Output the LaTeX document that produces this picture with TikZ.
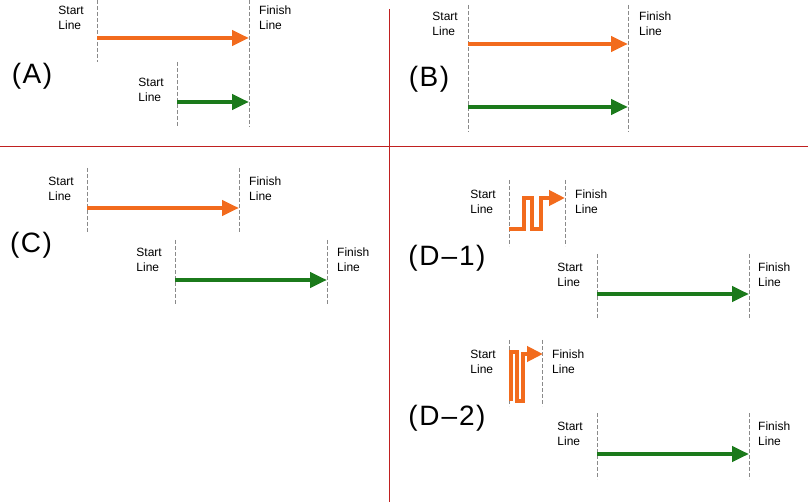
\documentclass[tikz,border=0pt]{standalone}
\usepackage{fontspec}
\setmainfont{Liberation Sans}
\usetikzlibrary{arrows.meta,positioning}
\definecolor{run}{HTML}{F26B1D}
\definecolor{walk}{HTML}{1B7A1B}
\definecolor{divider}{HTML}{C02020}
\definecolor{guide}{HTML}{8A8A8A}
\tikzset{
  every node/.style={font=\fontsize{12}{15}\selectfont,inner sep=0pt},
  startlbl/.style={anchor=north east,align=left},
  finishlbl/.style={anchor=north west,align=left},
  tag/.style={font=\fontsize{28}{32}\selectfont},
  guideline/.style={draw=guide,line width=1pt,dash pattern=on 4pt off 2pt},
  fast/.style={-{Triangle[length=17pt,width=15pt]},line width=4.5pt,draw=run},
  twisty/.style={fast,line width=4.5pt,-{Triangle[length=16pt,width=15pt]}},
  slow/.style={fast,draw=walk},
  split/.style={draw=divider,line width=1.5pt},
}
\newcommand{\tagtext}[1]{(\kern1.5pt#1\kern1.5pt)}
\begin{document}
\begin{tikzpicture}[x=1pt,y=-1pt]
\useasboundingbox (0,0) rectangle (808,502);

% dividers
\coordinate (vTop) at (389.3,9);   \coordinate (vBot) at (389.3,502);
\coordinate (hLeft) at (0,146.5);  \coordinate (hRight) at (808,146.5);
\draw[split] (vTop) -- (vBot);
\draw[split] (hLeft) -- (hRight);

% (A)
\node[tag] (tagA) at (32,76) {\tagtext{A}};
\coordinate (aStartTop) at (97,0);    \coordinate (aStartBot) at (97,62);
\coordinate (aFinTop) at (249,0);     \coordinate (aFinBot) at (249,127);
\coordinate (aStartTwoTop) at (177,62); \coordinate (aStartTwoBot) at (177,127);
\draw[guideline] (aStartTop) -- (aStartBot);
\draw[guideline] (aFinTop) -- (aFinBot);
\draw[guideline] (aStartTwoTop) -- (aStartTwoBot);
\node[startlbl] (aStartLbl) at (84,5.5) {Start\\Line};
\node[finishlbl] (aFinLbl) at (259,5.5) {Finish\\Line};
\node[startlbl] (aStartTwoLbl) at (164,77.5) {Start\\Line};
\coordinate (aRunFrom) at (97,38);    \coordinate (aRunTo) at (249,38);
\coordinate (aWalkFrom) at (177,102); \coordinate (aWalkTo) at (249,102);
\draw[fast] (aRunFrom) -- (aRunTo);
\draw[slow] (aWalkFrom) -- (aWalkTo);

% (B)
\node[tag] (tagB) at (429,79) {\tagtext{B}};
\coordinate (bStartTop) at (468,5);   \coordinate (bStartBot) at (468,132);
\coordinate (bFinTop) at (628,5);     \coordinate (bFinBot) at (628,132);
\draw[guideline] (bStartTop) -- (bStartBot);
\draw[guideline] (bFinTop) -- (bFinBot);
\node[startlbl] (bStartLbl) at (458,11.5) {Start\\Line};
\node[finishlbl] (bFinLbl) at (639,11.5) {Finish\\Line};
\coordinate (bRunFrom) at (468,44);   \coordinate (bRunTo) at (628,44);
\coordinate (bWalkFrom) at (468,107); \coordinate (bWalkTo) at (628,107);
\draw[fast] (bRunFrom) -- (bRunTo);
\draw[slow] (bWalkFrom) -- (bWalkTo);

% (C)
\node[tag] (tagC) at (31,245) {\tagtext{C}};
\coordinate (cStartTop) at (87,168);  \coordinate (cStartBot) at (87,232);
\coordinate (cFinTop) at (239,168);   \coordinate (cFinBot) at (239,232);
\coordinate (cStartTwoTop) at (175,240); \coordinate (cStartTwoBot) at (175,305);
\coordinate (cFinTwoTop) at (327,240);   \coordinate (cFinTwoBot) at (327,305);
\draw[guideline] (cStartTop) -- (cStartBot);
\draw[guideline] (cFinTop) -- (cFinBot);
\draw[guideline] (cStartTwoTop) -- (cStartTwoBot);
\draw[guideline] (cFinTwoTop) -- (cFinTwoBot);
\node[startlbl] (cStartLbl) at (74,176.5) {Start\\Line};
\node[finishlbl] (cFinLbl) at (249,176.5) {Finish\\Line};
\node[startlbl] (cStartTwoLbl) at (162,247.5) {Start\\Line};
\node[finishlbl] (cFinTwoLbl) at (337,247.5) {Finish\\Line};
\coordinate (cRunFrom) at (87,208);   \coordinate (cRunTo) at (239,208);
\coordinate (cWalkFrom) at (175,280); \coordinate (cWalkTo) at (327,280);
\draw[fast] (cRunFrom) -- (cRunTo);
\draw[slow] (cWalkFrom) -- (cWalkTo);

% (D-1)
\node[tag] (tagDOne) at (447,258) {\tagtext{D\kern2pt\textendash\kern2pt1}};
\coordinate (dOneStartTop) at (509,180); \coordinate (dOneStartBot) at (509,246);
\coordinate (dOneFinTop) at (565,180);   \coordinate (dOneFinBot) at (565,246);
\coordinate (dOneStartTwoTop) at (597,254); \coordinate (dOneStartTwoBot) at (597,319);
\coordinate (dOneFinTwoTop) at (749,254);   \coordinate (dOneFinTwoBot) at (749,319);
\draw[guideline] (dOneStartTop) -- (dOneStartBot);
\draw[guideline] (dOneFinTop) -- (dOneFinBot);
\draw[guideline] (dOneStartTwoTop) -- (dOneStartTwoBot);
\draw[guideline] (dOneFinTwoTop) -- (dOneFinTwoBot);
\node[startlbl] (dOneStartLbl) at (496,189.5) {Start\\Line};
\node[finishlbl] (dOneFinLbl) at (575,189.5) {Finish\\Line};
\node[startlbl] (dOneStartTwoLbl) at (583,262.5) {Start\\Line};
\node[finishlbl] (dOneFinTwoLbl) at (758,262.5) {Finish\\Line};
\coordinate (dOneRunFrom) at (509,229); \coordinate (dOneRunTo) at (565,198);
\draw[twisty] (dOneRunFrom) -- (524,229) -- (524,198) -- (532,198) -- (532,229)
  -- (541,229) -- (541,198) -- (dOneRunTo);
\coordinate (dOneWalkFrom) at (597,294); \coordinate (dOneWalkTo) at (749,294);
\draw[slow] (dOneWalkFrom) -- (dOneWalkTo);

% (D-2)
\node[tag] (tagDTwo) at (447,418) {\tagtext{D\kern2pt\textendash\kern2pt2}};
\coordinate (dTwoStartTop) at (509,340); \coordinate (dTwoStartBot) at (509,406);
\coordinate (dTwoFinTop) at (542,340);   \coordinate (dTwoFinBot) at (542,406);
\coordinate (dTwoStartTwoTop) at (597,413); \coordinate (dTwoStartTwoBot) at (597,479);
\coordinate (dTwoFinTwoTop) at (749,413);   \coordinate (dTwoFinTwoBot) at (749,479);
\draw[guideline] (dTwoStartTop) -- (dTwoStartBot);
\draw[guideline] (dTwoFinTop) -- (dTwoFinBot);
\draw[guideline] (dTwoStartTwoTop) -- (dTwoStartTwoBot);
\draw[guideline] (dTwoFinTwoTop) -- (dTwoFinTwoBot);
\node[startlbl] (dTwoStartLbl) at (496,349.5) {Start\\Line};
\node[finishlbl] (dTwoFinLbl) at (552,349.5) {Finish\\Line};
\node[startlbl] (dTwoStartTwoLbl) at (583,421.5) {Start\\Line};
\node[finishlbl] (dTwoFinTwoLbl) at (758,421.5) {Finish\\Line};
\coordinate (dTwoRunFrom) at (511,401); \coordinate (dTwoRunTo) at (543,354);
\draw[twisty] (dTwoRunFrom) -- (511,352) -- (517,352) -- (517,401) -- (523,401)
  -- (523,354) -- (dTwoRunTo);
\coordinate (dTwoWalkFrom) at (597,454); \coordinate (dTwoWalkTo) at (749,454);
\draw[slow] (dTwoWalkFrom) -- (dTwoWalkTo);
\end{tikzpicture}
\end{document}
